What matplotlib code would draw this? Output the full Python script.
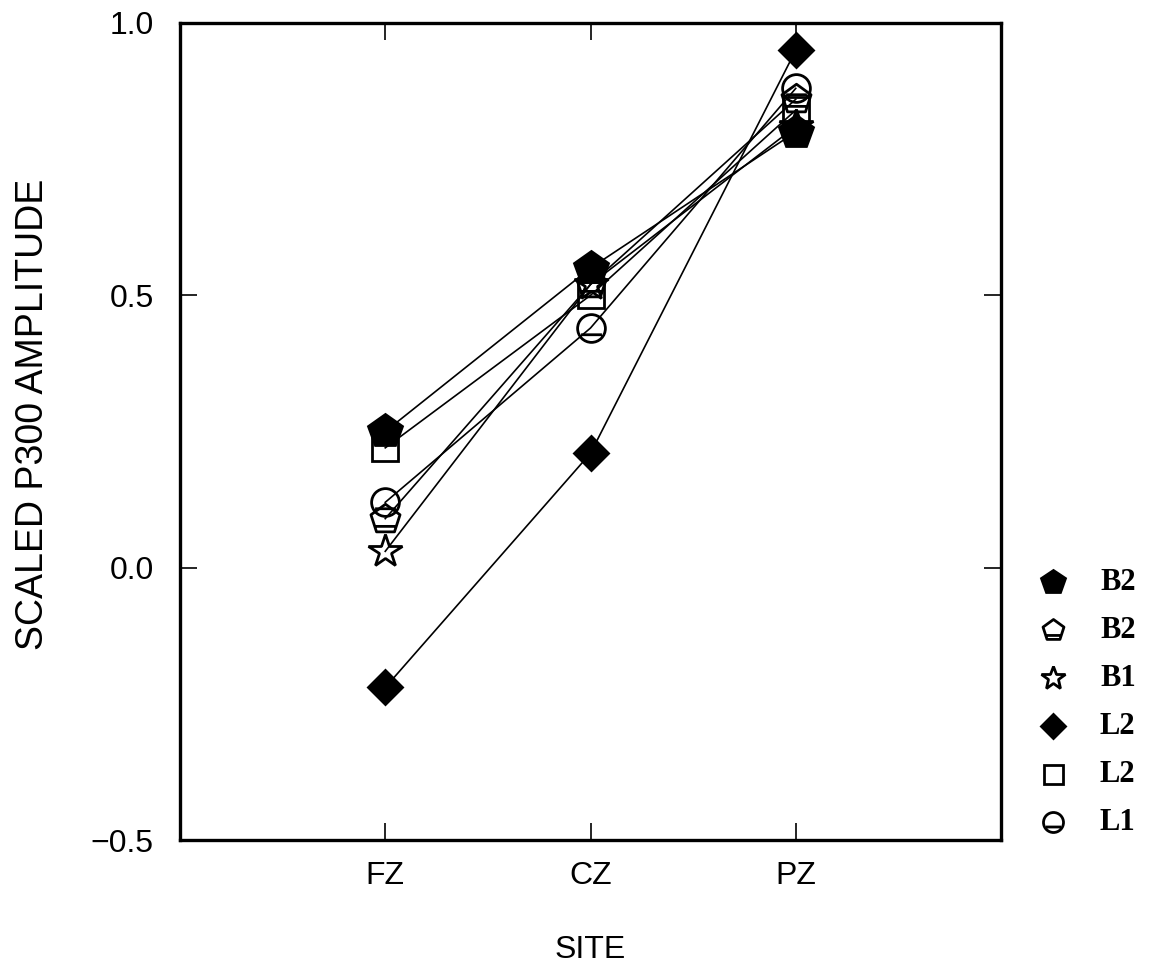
import numpy as np
import matplotlib
matplotlib.use('Agg')
import matplotlib.pyplot as plt
from matplotlib.path import Path
from matplotlib.lines import Line2D

sites = ['FZ', 'CZ', 'PZ']
labels = ['B2', 'B2', 'B1', 'L2', 'L2', 'L1']

b2_filled = [0.25, 0.55, 0.80]
b2_open = [0.09, 0.52, 0.86]
b1_star = [0.03, 0.52, 0.81]
l2_diamond = [-0.22, 0.21, 0.95]
l2_square = [0.22, 0.50, 0.84]
l1_circle = [0.12, 0.44, 0.88]

series = [b2_filled, b2_open, b1_star, l2_diamond, l2_square, l1_circle]


def barred(base, y):
    # outline marker with a horizontal bar across the lower part
    bar = Path([(-0.75, y), (0.75, y)], [Path.MOVETO, Path.LINETO])
    return Path.make_compound_path(base, bar)


pent_bar = barred(Path.unit_regular_polygon(5), -0.45)
circ_bar = barred(Path.unit_circle(), -0.45)

styles = [
    dict(marker='p', mfc='black', ms=25),
    dict(marker=pent_bar, mfc='none', ms=22),
    dict(marker='*', mfc='none', ms=25),
    dict(marker='D', mfc='black', ms=17),
    dict(marker='s', mfc='none', ms=19),
    dict(marker=circ_bar, mfc='none', ms=20),
]

plt.rcParams['font.family'] = ['Liberation Sans', 'DejaVu Sans']

W, H = 1155, 971
fig = plt.figure(figsize=(W / 100, H / 100), dpi=100)
ax = fig.add_axes([180 / W, 1 - 840 / H, 821 / W, 817 / H])

x = np.arange(1, len(sites) + 1)
for vals, st in zip(series, styles):
    ax.plot(x, vals, color='black', lw=1.2, mec='black', mew=2, **st)

ax.set_xlim(0, 4)
ax.set_ylim(-0.5, 1.0)
ax.set_xticks(x)
ax.set_xticklabels(sites)
ax.set_yticks([-0.5, 0.0, 0.5, 1.0])
ax.set_yticklabels(['\u22120.5', '0.0', '0.5', '1.0'])
ax.tick_params(direction='in', length=12, width=1.2, labelsize=23, top=True, right=True)
ax.tick_params(axis='y', pad=19)
ax.tick_params(axis='x', pad=15)
for sp in ax.spines.values():
    sp.set_linewidth(2.4)

fig.text(33 / W, 1 - 414 / H, 'SCALED P300 AMPLITUDE', rotation=90, ha='center', va='center', fontsize=27)
fig.text(590 / W, 1 - 950 / H, 'SITE', ha='center', va='center', fontsize=23)

# key at the right, outside the axes
for i, (st, lab) in enumerate(zip(styles, labels)):
    yk = 1 - (582 + 48 * i) / H
    st2 = dict(st)
    st2['ms'] = st['ms'] * 0.72
    fig.add_artist(Line2D([1053 / W], [yk], linestyle='none', color='black', mec='black', mew=2, **st2))
    fig.text(1100 / W, yk, lab, ha='left', va='center', family='Liberation Serif', weight='bold', fontsize=22)

fig.savefig('out.png', dpi=100)
